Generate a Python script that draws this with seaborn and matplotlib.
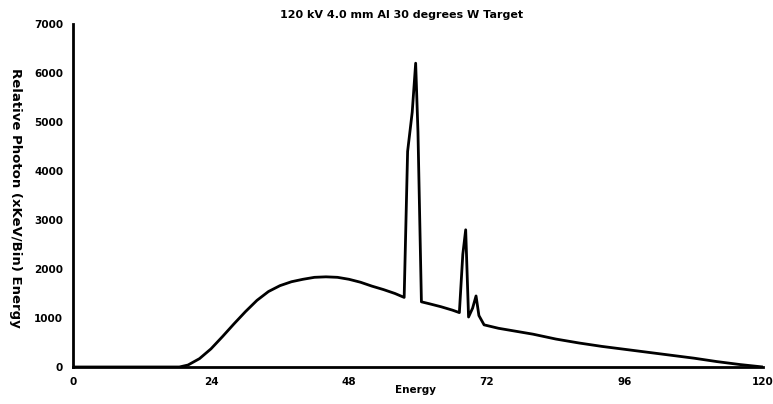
import matplotlib
matplotlib.use("Agg")
import matplotlib.pyplot as plt
import seaborn as sns
import pandas as pd
from matplotlib.ticker import MultipleLocator

energy = [0, 18.5, 20, 22, 24, 26, 28, 30, 32, 34, 36, 38, 40, 42, 44, 46, 48, 50,
          52, 54, 56, 57.6, 58.2, 59.0, 59.6, 60.0, 60.6, 62, 64, 66, 67.2, 67.8,
          68.3, 68.8, 69.5, 70.1, 70.6, 71.5, 74, 80, 84, 88, 92, 96, 100, 104,
          108, 112, 116, 120]
photons = [0, 0, 40, 170, 370, 620, 880, 1130, 1360, 1540, 1660, 1740, 1790, 1830,
           1840, 1830, 1790, 1730, 1650, 1580, 1500, 1420, 4400, 5200, 6200, 4800,
           1330, 1290, 1230, 1160, 1110, 2300, 2800, 1020, 1200, 1450, 1050, 860,
           790, 670, 570, 490, 420, 360, 300, 240, 180, 110, 50, 0]
x_ticks = [0, 24, 48, 72, 96, 120]
y_ticks = [0, 1000, 2000, 3000, 4000, 5000, 6000, 7000]

title = "120 kV 4.0 mm Al 30 degrees W Target"
xlabel = "Energy"
ylabel = "Relative Photon (xKeV/Bin) Energy"

sns.set_theme(style="white")
plt.rcParams['font.family'] = ['DejaVu Sans']
plt.rcParams['text.color'] = 'black'

df = pd.DataFrame({"Energy": energy, "Photons": photons})

fig = plt.figure(figsize=(7.73, 4.04), dpi=100)
ax = fig.add_axes([0.0944, 0.0916, 0.8926, 0.849])
sns.lineplot(data=df, x="Energy", y="Photons", ax=ax, color="black",
             linewidth=2.0, estimator=None, sort=False)

ax.set_xlim(0, 120)
ax.set_ylim(0, 7000)
ax.set_xticks(x_ticks)
ax.set_xticklabels([str(t) for t in x_ticks])
ax.set_yticks(y_ticks)
ax.set_yticklabels([str(t) for t in y_ticks])
ax.yaxis.set_minor_locator(MultipleLocator(500))

for s in ["top", "right"]:
    ax.spines[s].set_visible(False)
for s in ["left", "bottom"]:
    ax.spines[s].set_color("black")
    ax.spines[s].set_linewidth(2.0)

ax.tick_params(axis="both", which="major", direction="out", length=4, width=1.5,
               colors="black", labelcolor="black", labelsize=7.5, pad=3)
ax.tick_params(axis="y", which="minor", direction="in", length=2, width=1, colors="black")
for lab in ax.get_xticklabels() + ax.get_yticklabels():
    lab.set_fontweight("heavy")

ax.set_xlabel("")
ax.set_ylabel("")
fig.text(0.537, 0.022, xlabel, ha="center", va="bottom", fontsize=7.5,
         fontweight="heavy", color="black")
fig.text(0.02, 0.51, ylabel, ha="center", va="center", rotation=-90, fontsize=9.5,
         fontweight="heavy", color="black")
fig.text(0.52, 0.962, title, ha="center", va="center", fontsize=8,
         fontweight="heavy", color="black")

fig.savefig("out.png", dpi=100)
